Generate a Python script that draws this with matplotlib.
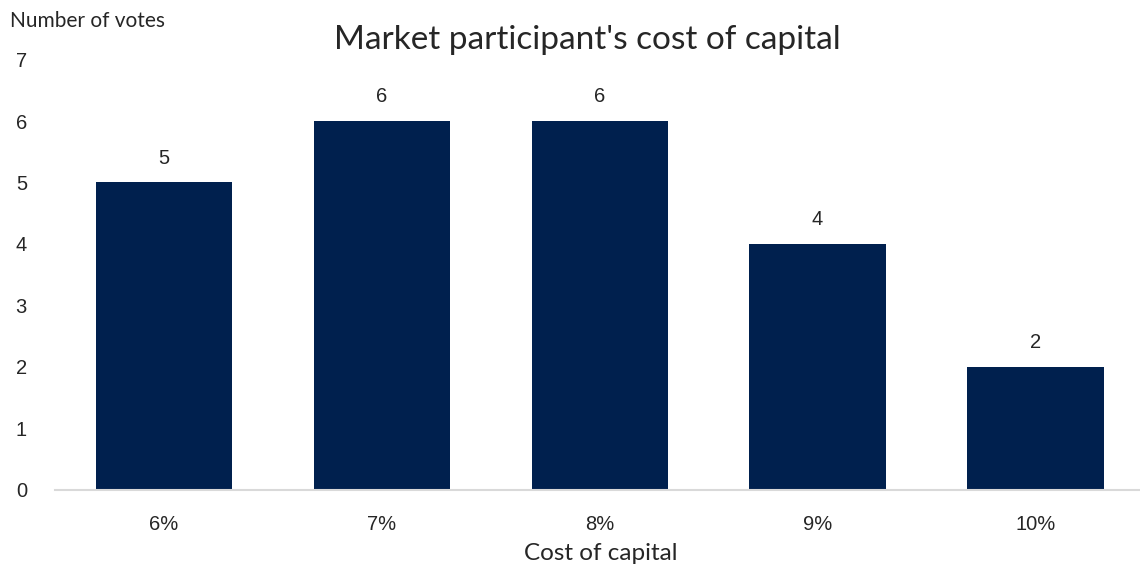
import matplotlib
matplotlib.use("Agg")
import matplotlib.pyplot as plt

# Vote counts per cost-of-capital bucket
rates = ["6%", "7%", "8%", "9%", "10%"]
votes = [5, 6, 6, 4, 2]

BAR = "#00204E"
TEXT = "#262626"

fig = plt.figure(figsize=(11.4, 5.67), dpi=100)
ax = fig.add_axes([0.048, 0.136, 0.956, 0.759])

x = range(len(rates))
bars = ax.bar(x, votes, width=0.625, color=BAR, edgecolor="none", zorder=2)

for b, v in zip(bars, votes):
    ax.text(b.get_x() + b.get_width() / 2, v + 0.24, str(v),
            ha="center", va="bottom", fontsize=14.5, color=TEXT,
            family="Liberation Sans")

ax.set_xlim(-0.5, len(rates) - 0.5)
ax.set_ylim(0, 7)
ax.set_xticks(list(x))
ax.set_xticklabels(rates)
ax.set_yticks(range(8))

for lbl in ax.get_xticklabels() + ax.get_yticklabels():
    lbl.set_family("Liberation Sans")
    lbl.set_fontsize(14.5)
    lbl.set_color(TEXT)

ax.tick_params(axis="both", length=0)
ax.tick_params(axis="x", pad=18)
ax.tick_params(axis="y", pad=20)
for s in ["top", "right", "left"]:
    ax.spines[s].set_visible(False)
ax.spines["bottom"].set_color("#D9D9D9")
ax.spines["bottom"].set_linewidth(1.5)

fig.text(0.515, 0.929, "Market participant's cost of capital", ha="center",
         va="center", fontsize=24, color=TEXT, family="Lato")
fig.text(0.009, 0.963, "Number of votes", ha="left", va="center",
         fontsize=15, color=TEXT, family="Lato")
fig.text(0.527, 0.024, "Cost of capital", ha="center", va="center",
         fontsize=17.5, color=TEXT, family="Lato")

fig.savefig("out.png", dpi=100, facecolor="white")
